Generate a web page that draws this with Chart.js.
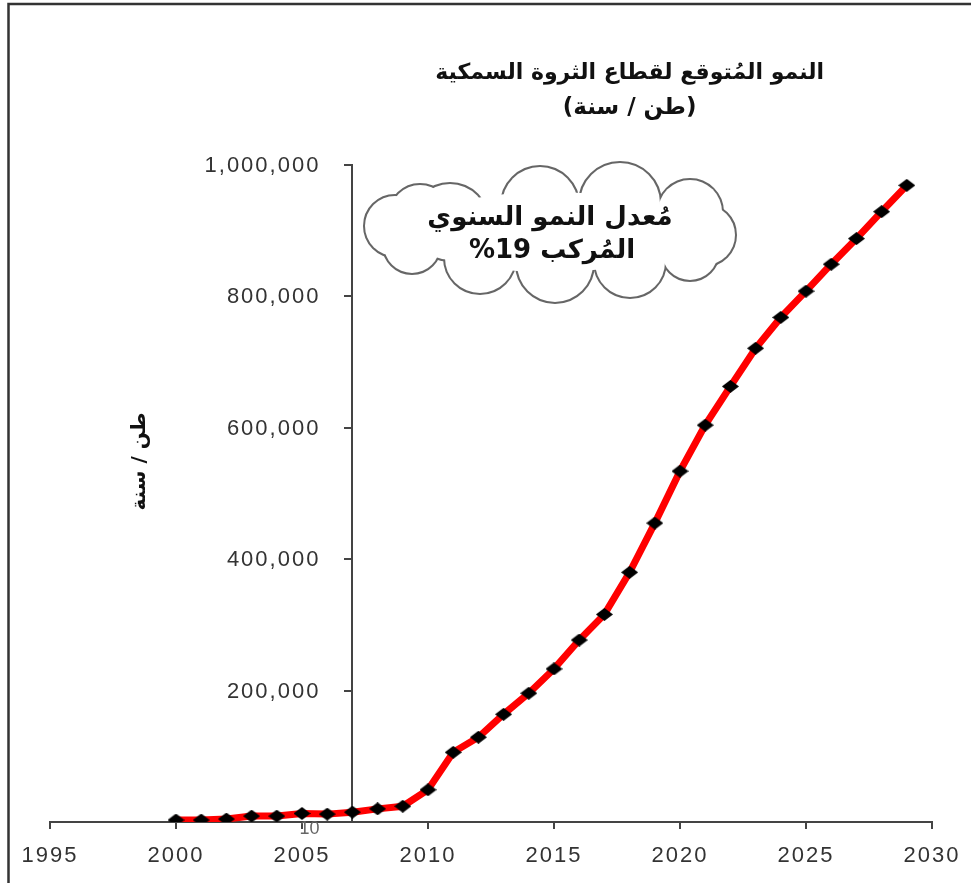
<!DOCTYPE html>
<html><head><meta charset="utf-8">
<script src="https://cdn.jsdelivr.net/npm/chart.js@4/dist/chart.umd.min.js"></script>
<style>html,body{margin:0;padding:0;background:#fff;}</style>
</head><body><canvas id="c" width="971" height="883"></canvas>
<script>
// ---- data ----
const years = [2000,2001,2002,2003,2004,2005,2006,2007,2008,2009,2010,2011,2012,2013,2014,2015,2016,2017,2018,2019,2020,2021,2022,2023,2024,2025,2026,2027,2028,2029];
const tonnes = [3000,3000,4500,9000,9000,13000,12000,15000,20000,24000,49000,106000,129000,164000,196000,233000,277000,316000,380000,455000,534000,604000,663000,721000,768000,808000,849000,888000,929000,969000];
const xTicks = [1995,2000,2005,2010,2015,2020,2025,2030];
const yTicks = [0,200000,400000,600000,800000,1000000];
const titleLines = ['النمو المُتوقع لقطاع الثروة السمكية','(طن / سنة)'];
const yTitle = 'طن / سنة';
const cloudLines = ['مُعدل النمو السنوي','المُركب 19%'];
const strayLabel = '10';

function diamond(w,h){
  const c=document.createElement('canvas');c.width=w;c.height=h;
  const g=c.getContext('2d');g.fillStyle='#000';g.beginPath();
  g.moveTo(w/2,0);g.lineTo(w,h/2);g.lineTo(w/2,h);g.lineTo(0,h/2);g.closePath();g.fill();
  return c;
}
const marker = diamond(17,13);
const tickFont = '22px "Liberation Sans", Arial';

const decor = {
  id:'decor',
  beforeDraw(chart){
    const ctx=chart.ctx; ctx.save();
    ctx.fillStyle='#fff'; ctx.fillRect(0,0,chart.width,chart.height);
    ctx.strokeStyle='#333'; ctx.lineWidth=2.5;
    ctx.beginPath(); ctx.moveTo(8.5,chart.height); ctx.lineTo(8.5,4); ctx.lineTo(chart.width,4); ctx.stroke();
    ctx.restore();
    ctx.letterSpacing='2px';
  },
  beforeDatasetsDraw(chart){
    const ctx=chart.ctx, xs=chart.scales.x, ys=chart.scales.y;
    ctx.save();
    ctx.letterSpacing='0px';
    ctx.fillStyle='#666'; ctx.font='18px "Liberation Sans", Arial';
    ctx.textAlign='center'; ctx.textBaseline='middle';
    ctx.fillText(strayLabel, xs.getPixelForValue(2005.3), ys.getPixelForValue(0)+7);
    // y tick labels, placed from the y scale
    ctx.letterSpacing='2px';
    ctx.fillStyle='#333'; ctx.font=tickFont; ctx.textAlign='right';
    const ax = xs.getPixelForValue(2007);
    ys.ticks.forEach(t=>{
      if(t.value===0) return;
      ctx.fillText(t.value.toLocaleString('en-US'), ax-32, ys.getPixelForValue(t.value)+1);
    });
    ctx.restore();
  },
  afterDraw(chart){
    const ctx=chart.ctx, xs=chart.scales.x, ys=chart.scales.y, a=chart.chartArea;
    ctx.save();
    ctx.letterSpacing='0px';
    ctx.fillStyle='#111'; ctx.textAlign='center'; ctx.textBaseline='middle';
    ctx.direction='rtl';
    const tx = xs.getPixelForValue(2018);
    ctx.font='bold 22px "DejaVu Sans"';
    ctx.fillText(titleLines[0], tx, a.top-92);
    ctx.font='bold 23px "DejaVu Sans"';
    ctx.fillText(titleLines[1], tx, a.top-57);
    // y title
    ctx.save();
    ctx.translate(140, (a.top+a.bottom)/2-32);
    ctx.rotate(-Math.PI/2);
    ctx.font='bold 20px "DejaVu Sans"';
    ctx.fillText(yTitle,0,0);
    ctx.restore();
    // cloud callout
    const cx = a.left+500, cy = a.top+67;
    const bumps=[[-100,-10,38],[-10,-27,38],[70,-29,40],[140,-20,32],[155,3,30],[140,20,28],[80,30,35],[5,32,38],[-70,26,35],[-138,13,28],[-155,-6,30],[-130,-17,30]];
    ctx.strokeStyle='#666'; ctx.lineWidth=4;
    bumps.forEach(b=>{ctx.beginPath();ctx.arc(cx+b[0],cy+b[1],b[2],0,Math.PI*2);ctx.stroke();});
    ctx.fillStyle='#fff';
    bumps.forEach(b=>{ctx.beginPath();ctx.arc(cx+b[0],cy+b[1],b[2],0,Math.PI*2);ctx.fill();});
    ctx.beginPath();ctx.ellipse(cx,cy,140,40,0,0,Math.PI*2);ctx.fill();
    ctx.fillStyle='#111';
    ctx.font='bold 26px "DejaVu Sans"';
    ctx.fillText(cloudLines[0], cx, cy-14);
    ctx.fillText(cloudLines[1], cx+2, cy+19);
    ctx.restore();
  }
};

new Chart(document.getElementById('c'), {
  type:'line',
  data:{datasets:[{
    data: years.map((y,i)=>({x:y,y:tonnes[i]})),
    borderColor:'#ff0000', borderWidth:7, tension:0,
    pointStyle: marker, pointRadius:8, pointBackgroundColor:'#000', pointBorderColor:'#000'
  }]},
  options:{
    responsive:false, animation:false, devicePixelRatio:1,
    layout:{padding:{left:50,right:39,top:165,bottom:0}},
    plugins:{legend:{display:false},tooltip:{enabled:false},title:{display:false}},
    scales:{
      x:{type:'linear',position:'bottom',min:1995,max:2030,
        afterBuildTicks:s=>{s.ticks=xTicks.map(v=>({value:v}));},
        afterFit:s=>{s.height=61;},
        ticks:{callback:v=>String(v),font:{family:'"Liberation Sans", Arial',size:22},color:'#333',padding:14,maxRotation:0},
        grid:{drawOnChartArea:false,drawTicks:true,tickLength:7,color:'#444',lineWidth:2},
        border:{display:true,color:'#444',width:2}
      },
      y:{type:'linear',position:{x:2007},min:0,max:1000000,
        afterBuildTicks:s=>{s.ticks=yTicks.map(v=>({value:v}));},
        ticks:{display:false},
        grid:{drawOnChartArea:false,drawTicks:true,tickLength:7,color:'#444',lineWidth:2},
        border:{display:true,color:'#444',width:2}
      }
    }
  },
  plugins:[decor]
});
</script></body></html>
